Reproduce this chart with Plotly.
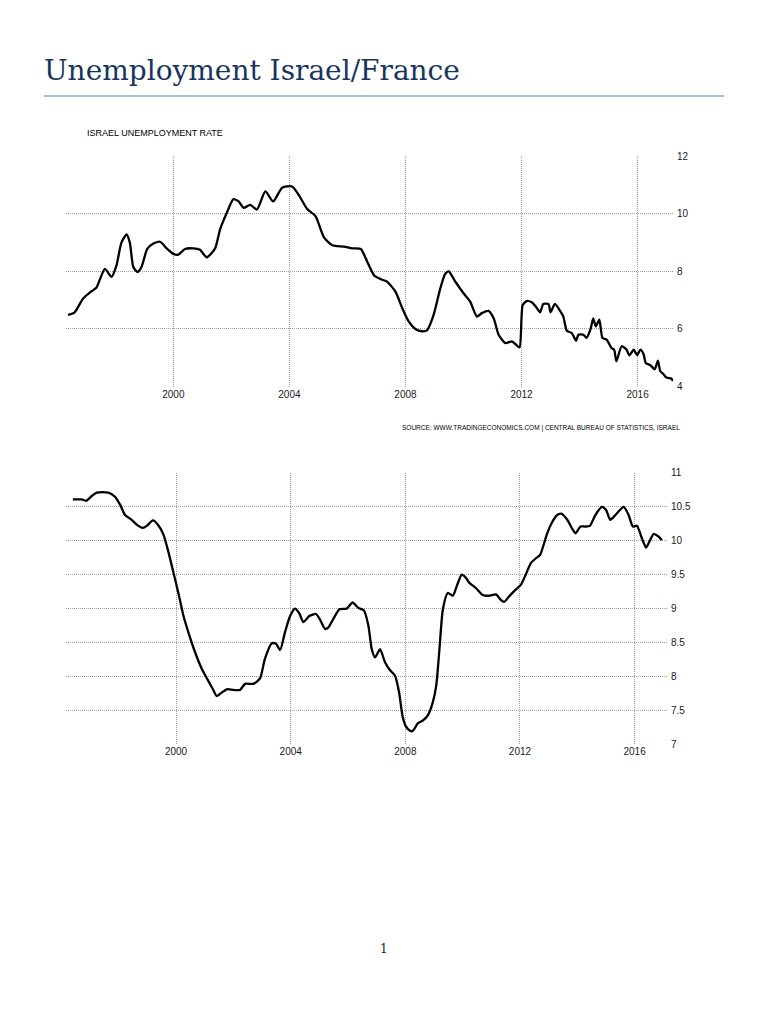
import plotly.graph_objects as go

# Israel unemployment rate (%), decimal years
israel_year = [1996.37, 1996.6, 1996.89, 1997.18, 1997.35, 1997.64, 1997.87, 1998.04, 1998.21, 1998.39,
               1998.5, 1998.62, 1998.76, 1998.9, 1999.1, 1999.31, 1999.54, 1999.77, 2000.0, 2000.17,
               2000.4, 2000.69, 2000.92, 2001.15, 2001.44, 2001.61, 2001.84, 2002.07, 2002.25, 2002.42,
               2002.65, 2002.88, 2003.17, 2003.44, 2003.75, 2004.09, 2004.32, 2004.61, 2004.9, 2005.19,
               2005.48, 2005.88, 2006.17, 2006.46, 2006.69, 2006.92, 2007.15, 2007.37, 2007.66, 2007.89,
               2008.11, 2008.34, 2008.57, 2008.74, 2008.97, 2009.2, 2009.37, 2009.49, 2009.72, 2010.0,
               2010.23, 2010.46, 2010.63, 2010.86, 2011.04, 2011.21, 2011.44, 2011.67, 2011.78, 2011.93,
               2012.04, 2012.18, 2012.35, 2012.52, 2012.64, 2012.75, 2012.93, 2013.0, 2013.15, 2013.33,
               2013.44, 2013.56, 2013.73, 2013.88, 2013.96, 2014.13, 2014.24, 2014.38, 2014.47, 2014.56,
               2014.68, 2014.79, 2014.93, 2015.1, 2015.19, 2015.27, 2015.45, 2015.62, 2015.71, 2015.87,
               2015.98, 2016.1, 2016.21, 2016.28, 2016.44, 2016.59, 2016.7, 2016.78, 2016.9, 2016.99,
               2017.16, 2017.22]
israel_rate = [6.49, 6.58, 7.06, 7.31, 7.44, 8.09, 7.81, 8.21, 9.0, 9.29,
               9.0, 8.15, 7.98, 8.15, 8.78, 8.97, 9.03, 8.8, 8.61, 8.58,
               8.78, 8.8, 8.75, 8.49, 8.8, 9.46, 10.03, 10.51, 10.43, 10.21,
               10.31, 10.15, 10.78, 10.43, 10.91, 10.95, 10.66, 10.17, 9.92, 9.18,
               8.91, 8.86, 8.8, 8.78, 8.32, 7.86, 7.73, 7.64, 7.29, 6.72,
               6.26, 6.0, 5.92, 5.95, 6.49, 7.41, 7.92, 8.0, 7.64, 7.24,
               6.95, 6.43, 6.55, 6.63, 6.37, 5.8, 5.51, 5.57, 5.48, 5.36,
               6.83, 6.97, 6.93, 6.74, 6.58, 6.87, 6.86, 6.58, 6.87, 6.63,
               6.43, 5.94, 5.86, 5.59, 5.8, 5.8, 5.69, 6.0, 6.37, 6.09,
               6.32, 5.69, 5.63, 5.34, 5.28, 4.88, 5.4, 5.28, 5.08, 5.28,
               5.09, 5.28, 5.11, 4.82, 4.74, 4.6, 4.9, 4.54, 4.42, 4.31,
               4.28, 4.19]

# France unemployment rate (%), decimal years
france_year = [1996.4, 1996.71, 1996.86, 1997.06, 1997.23, 1997.64, 1997.87, 1998.05, 1998.22, 1998.45,
               1998.65, 1998.84, 1998.98, 1999.19, 1999.38, 1999.56, 1999.73, 1999.91, 2000.08, 2000.26,
               2000.43, 2000.66, 2000.9, 2001.13, 2001.3, 2001.42, 2001.59, 2001.77, 2002.0, 2002.23,
               2002.41, 2002.7, 2002.93, 2003.1, 2003.34, 2003.49, 2003.63, 2003.8, 2003.98, 2004.15,
               2004.3, 2004.44, 2004.65, 2004.88, 2005.02, 2005.2, 2005.31, 2005.49, 2005.7, 2005.95,
               2006.16, 2006.36, 2006.56, 2006.71, 2006.83, 2006.94, 2007.12, 2007.29, 2007.47, 2007.64,
               2007.78, 2007.9, 2008.01, 2008.12, 2008.23, 2008.32, 2008.44, 2008.61, 2008.79, 2008.96,
               2009.08, 2009.19, 2009.31, 2009.48, 2009.66, 2009.81, 2009.97, 2010.12, 2010.23, 2010.47,
               2010.7, 2010.93, 2011.16, 2011.33, 2011.45, 2011.62, 2011.85, 2012.03, 2012.2, 2012.38,
               2012.55, 2012.7, 2012.84, 2012.95, 2013.13, 2013.3, 2013.44, 2013.65, 2013.82, 2013.94,
               2014.11, 2014.28, 2014.44, 2014.63, 2014.86, 2015.01, 2015.15, 2015.33, 2015.62, 2015.79,
               2015.94, 2016.08, 2016.25, 2016.4, 2016.54, 2016.66, 2016.77, 2016.89, 2016.95]
france_rate = [10.61, 10.61, 10.59, 10.66, 10.71, 10.71, 10.65, 10.53, 10.38, 10.31,
               10.23, 10.19, 10.22, 10.3, 10.23, 10.09, 9.84, 9.53, 9.23, 8.89,
               8.65, 8.36, 8.11, 7.93, 7.8, 7.71, 7.76, 7.81, 7.8, 7.8,
               7.89, 7.89, 7.97, 8.26, 8.49, 8.48, 8.39, 8.65, 8.89, 9.0,
               8.93, 8.8, 8.89, 8.92, 8.84, 8.7, 8.72, 8.85, 8.99, 9.0,
               9.09, 9.01, 8.97, 8.75, 8.4, 8.28, 8.4, 8.21, 8.09, 8.01,
               7.77, 7.42, 7.27, 7.21, 7.19, 7.23, 7.31, 7.35, 7.43, 7.62,
               7.87, 8.4, 8.99, 9.23, 9.19, 9.35, 9.5, 9.45, 9.38, 9.3,
               9.2, 9.19, 9.21, 9.13, 9.1, 9.18, 9.28, 9.35, 9.5, 9.67,
               9.74, 9.79, 9.96, 10.11, 10.28, 10.38, 10.4, 10.31, 10.18, 10.11,
               10.21, 10.21, 10.22, 10.38, 10.5, 10.45, 10.31, 10.38, 10.5, 10.38,
               10.21, 10.22, 10.04, 9.9, 10.01, 10.1, 10.08, 10.04, 10.01]

year_ticks = [2000, 2004, 2008, 2012, 2016]
israel_ticks = [4, 6, 8, 10, 12]
france_ticks = [7, 7.5, 8, 8.5, 9, 9.5, 10, 10.5, 11]

# page is 768x1024 with the browser's 8px body margin around the figure
W, H = 752, 1008
OFF = 8


def px(x):
    return (x - OFF) / W


def py(y):
    return 1 - (y - OFF) / H


tick_font = dict(family="Liberation Sans Narrow, Liberation Sans, Arial", size=10, color="#1a1a1a")
small_font = "Liberation Sans Narrow, Liberation Sans, Arial"

fig = go.Figure()
fig.add_trace(go.Scatter(x=israel_year, y=israel_rate, mode="lines",
                         line=dict(color="black", width=2.3, shape="spline", smoothing=0.6),
                         xaxis="x", yaxis="y", showlegend=False))
fig.add_trace(go.Scatter(x=france_year, y=france_rate, mode="lines",
                         line=dict(color="black", width=2.3, shape="spline", smoothing=0.6),
                         xaxis="x2", yaxis="y2", showlegend=False))

grid = dict(showgrid=True, gridcolor="#a0a0a0", griddash="1px,1px", gridwidth=1,
            zeroline=False, showline=False, ticks="", tickfont=tick_font)

fig.update_layout(
    width=W, height=H,
    margin=dict(l=0, r=0, t=0, b=0),
    paper_bgcolor="white", plot_bgcolor="white",
    xaxis=dict(domain=[px(66), px(673)], range=[1996.3, 2017.22], tickvals=year_ticks,
               anchor="y", **grid),
    yaxis=dict(domain=[py(385), py(152)], range=[4, 12], tickvals=israel_ticks,
               side="right", anchor="x", ticklabelstandoff=3, **grid),
    xaxis2=dict(domain=[px(66), px(667)], range=[1996.16, 2017.13], tickvals=year_ticks,
                anchor="y2", **grid),
    yaxis2=dict(domain=[py(747), py(472.5)], range=[7, 11], tickvals=france_ticks,
                side="right", anchor="x2", ticklabelstandoff=3, **grid),
)

# page title and rule
fig.add_annotation(text="Unemployment Israel/France", x=px(42), y=py(65), xref="paper", yref="paper",
                   xanchor="left", yanchor="middle", showarrow=False,
                   font=dict(family="DejaVu Serif, Liberation Serif, serif", size=28, color="#17365D"))
fig.add_shape(type="line", xref="paper", yref="paper", x0=px(44), x1=px(724),
              y0=py(91), y1=py(91), line=dict(color="#4F81BD", width=1))

# chart title and source line
fig.add_annotation(text="ISRAEL UNEMPLOYMENT RATE", x=px(85), y=py(128), xref="paper", yref="paper",
                   xanchor="left", yanchor="middle", showarrow=False,
                   font=dict(family=small_font, size=9, color="#000000"))
fig.add_annotation(text="SOURCE: WWW.TRADINGECONOMICS.COM | CENTRAL BUREAU OF STATISTICS, ISRAEL",
                   x=px(682), y=py(427), xref="paper", yref="paper",
                   xanchor="right", yanchor="middle", showarrow=False,
                   font=dict(family=small_font, size=6.5, color="#000000"))

# page number
fig.add_annotation(text="1", x=px(384), y=py(954), xref="paper", yref="paper",
                   xanchor="center", yanchor="middle", showarrow=False,
                   font=dict(family="DejaVu Serif, Liberation Serif, serif", size=12, color="#222222"))

fig.write_html("out.html")
